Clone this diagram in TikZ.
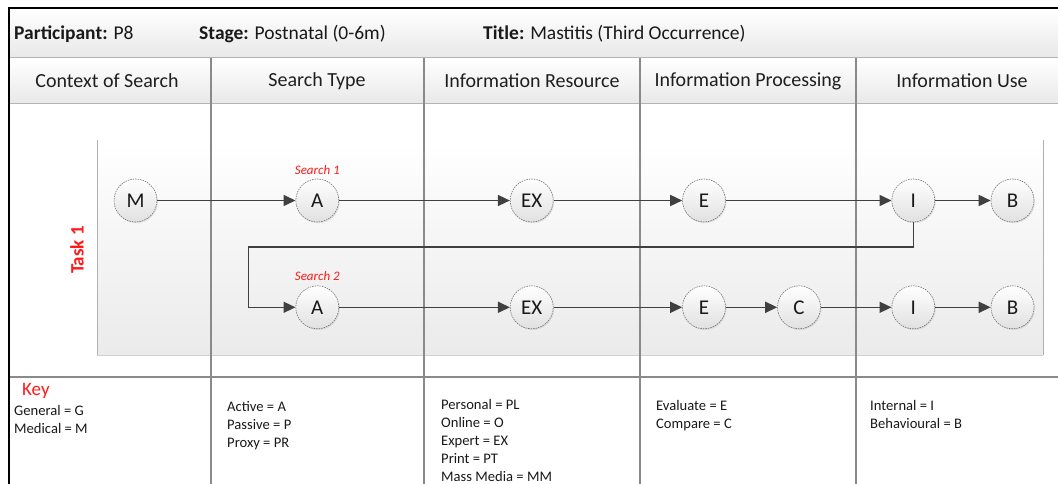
\documentclass[tikz,border=0pt]{standalone}
\usepackage{fontspec}
\setmainfont{Carlito}
\usetikzlibrary{arrows.meta,shadows}

\definecolor{divider}{HTML}{8A8A8A}
\definecolor{rule}{HTML}{B4B4B4}
\definecolor{flow}{HTML}{404040}
\definecolor{accent}{HTML}{FF1A1A}
\definecolor{panelline}{HTML}{B0B0B0}

\tikzset{
  band/.style={top color=white, bottom color=black!9},
  stagenode/.style={circle, minimum size=43pt, inner sep=0pt,
    draw=black!55, dash pattern=on 1.5pt off 1pt, line width=0.6pt,
    top color=white, bottom color=black!12,
    drop shadow={opacity=0.18, shadow xshift=1pt, shadow yshift=-1.2pt},
    font=\fontsize{21}{21}\selectfont, text=black!90},
  flowline/.style={draw=flow, line width=1.6pt,
    -{Triangle[length=12pt,width=11pt]}},
  colhead/.style={font=\fontsize{20}{22}\selectfont, text=black!88},
  titletext/.style={font=\fontsize{19.5}{22}\selectfont, text=black!90, anchor=base west, inner sep=0pt},
  searchlabel/.style={font=\itshape\fontsize{13}{15}\selectfont, text=accent},
  keytext/.style={font=\fontsize{14.6}{18}\selectfont, align=left, anchor=base west, inner sep=0pt, text=black!90}
}

\begin{document}
\begin{tikzpicture}[x=1pt, y=-1pt]
\useasboundingbox (0,0) rectangle (1058,484);

% header bands
\fill[band] (9,8) rectangle (1058,58);
\fill[band] (9,58) rectangle (1058,104);
\draw[rule, line width=1pt] (9,58) -- (1058,58);
\draw[rule, line width=1pt] (9,104) -- (1058,104);

% task panel
\fill[top color=white, bottom color=black!8] (97,140) rectangle (1043,355);
\draw[panelline, line width=1pt] (97,140) -- (97,355);
\draw[black!18, line width=1pt] (97,355) -- (1043,355);
\draw[panelline, line width=1pt] (1043,355) -- (1043,140);

% key separator
\draw[divider, line width=1.5pt] (9,377) -- (1058,377);

% column dividers
\foreach \cx in {211,424,640,856}
  \draw[divider, line width=1.2pt] (\cx,58) -- (\cx,484);

% outer frame
\draw[black, line width=2.2pt] (1058,8) -- (9,8) -- (9,484);

% title row
\node[titletext] (participant) at (14,40) {\textbf{Participant:} P8};
\node[titletext] (stage) at (199,40) {\textbf{Stage:} Postnatal (0-6m)};
\node[titletext] (title) at (483,40) {\textbf{Title:} Mastitis (Third Occurrence)};

% column headings
\node[colhead] (h1) at (107,81) {Context of Search};
\node[colhead] (h2) at (317,81) {Search Type};
\node[colhead] (h3) at (532,81) {Information Resource};
\node[colhead] (h4) at (748,81) {Information Processing};
\node[colhead] (h5) at (962,81) {Information Use};

% task label
\node[rotate=90, font=\bfseries\fontsize{19}{21}\selectfont, text=accent] (task) at (77,250) {Task 1};

% first search
\node[stagenode] (M)   at (135.5,200.5) {M};
\node[stagenode] (A1)  at (317.3,200.5) {A};
\node[stagenode] (EX1) at (531.7,200.5) {EX};
\node[stagenode] (E1)  at (704,200.5) {E};
\node[stagenode] (I1)  at (913.3,200.5) {I};
\node[stagenode] (B1)  at (1012.5,200.5) {B};

% second search
\node[stagenode] (A2)  at (317.3,307.3) {A};
\node[stagenode] (EX2) at (531.7,307.3) {EX};
\node[stagenode] (E2)  at (704,307.3) {E};
\node[stagenode] (C2)  at (799,307.3) {C};
\node[stagenode] (I2)  at (913.3,307.3) {I};
\node[stagenode] (B2)  at (1012.5,307.3) {B};

\node[searchlabel] (s1) at (317.3,170) {Search 1};
\node[searchlabel] (s2) at (317.3,276.5) {Search 2};

% connectors
\draw[flowline] (M) -- (A1);
\draw[flowline] (A1) -- (EX1);
\draw[flowline] (EX1) -- (E1);
\draw[flowline] (E1) -- (I1);
\draw[flowline] (I1) -- (B1);

\coordinate (loop) at (248.5,246.7);
\draw[flowline] (I1.south) |- (loop) |- (A2.west);

\draw[flowline] (A2) -- (EX2);
\draw[flowline] (EX2) -- (E2);
\draw[flowline] (E2) -- (C2);
\draw[flowline] (C2) -- (I2);
\draw[flowline] (I2) -- (B2);

% key (multi-line nodes are placed by the baseline of their last line)
\node[font=\fontsize{19}{21}\selectfont, text=accent, anchor=base west, inner sep=0pt] (key) at (22,395) {Key};
\node[keytext] (k1) at (14,433) {General = G\\Medical = M};
\node[keytext] (k2) at (227,447) {Active = A\\Passive = P\\Proxy = PR};
\node[keytext] (k3) at (441,481) {Personal = PL\\Online = O\\Expert = EX\\Print = PT\\Mass Media = MM};
\node[keytext] (k4) at (656,428) {Evaluate = E\\Compare = C};
\node[keytext] (k5) at (870,428) {Internal = I\\Behavioural = B};
\end{tikzpicture}
\end{document}
